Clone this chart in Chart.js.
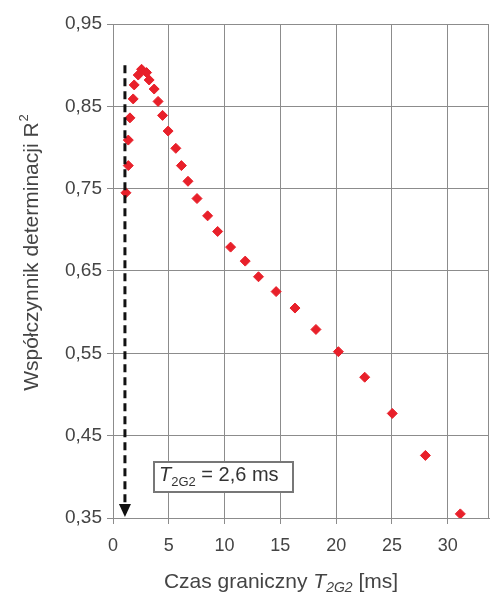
<!DOCTYPE html>
<html>
<head>
<meta charset="utf-8">
<script src="https://cdn.jsdelivr.net/npm/chart.js@4/dist/chart.umd.min.js"></script>
<style>
  html, body { margin: 0; padding: 0; background: #fff; }
  #wrap { width: 495px; height: 592px; }
</style>
</head>
<body>
<div id="wrap"><canvas id="chart" width="495" height="592"></canvas></div>
<script>
// limit time T2G2 [ms] vs coefficient of determination R^2
const timeMs = [1.16, 1.37, 1.37, 1.52, 1.81, 1.9, 2.26, 2.56, 3.01, 3.24, 3.69, 4.04, 4.44, 4.94,
  5.63, 6.13, 6.72, 7.53, 8.48, 9.38, 10.54, 11.85, 13.04, 14.62, 16.31, 18.19, 20.2, 22.56,
  25.03, 28.0, 31.13];
const r2 = [0.745, 0.778, 0.809, 0.836, 0.859, 0.876, 0.888, 0.895, 0.891, 0.882, 0.871, 0.856,
  0.839, 0.82, 0.799, 0.778, 0.759, 0.738, 0.717, 0.698, 0.679, 0.662, 0.643, 0.625, 0.605,
  0.579, 0.552, 0.521, 0.477, 0.426, 0.355];
const xTicks = [0, 5, 10, 15, 20, 25, 30];
const yTicks = [0.35, 0.45, 0.55, 0.65, 0.75, 0.85, 0.95];

// dashed arrow marking the optimum
const arrowX = 1.07;
const arrowFrom = 0.9;
const arrowTo = 0.35;
const labelText = ' = 2,6 ms';

const points = timeMs.map((t, i) => ({ x: t, y: r2[i] }));
const textColor = '#444';
const gridColor = '#8c8c8c';
const FONT = '"Liberation Sans", Arial, sans-serif';

const extras = {
  id: 'extras',
  afterDraw(chart) {
    const ctx = chart.ctx;
    const a = chart.chartArea;
    const xs = chart.scales.x, ys = chart.scales.y;
    ctx.save();

    // plot frame
    ctx.strokeStyle = gridColor;
    ctx.lineWidth = 1;
    ctx.strokeRect(a.left + 0.5, a.top + 0.5, a.right - a.left - 1, a.bottom - a.top);

    // dashed arrow
    const ax = xs.getPixelForValue(arrowX);
    const y1 = ys.getPixelForValue(arrowFrom);
    const y2 = ys.getPixelForValue(arrowTo);
    ctx.strokeStyle = '#111';
    ctx.lineWidth = 3;
    ctx.setLineDash([8, 5]);
    ctx.beginPath();
    ctx.moveTo(ax, y1);
    ctx.lineTo(ax, y2 - 12);
    ctx.stroke();
    ctx.setLineDash([]);
    ctx.fillStyle = '#111';
    ctx.beginPath();
    ctx.moveTo(ax - 6, y2 - 14);
    ctx.lineTo(ax + 6, y2 - 14);
    ctx.lineTo(ax, y2 - 1);
    ctx.closePath();
    ctx.fill();

    // label box
    const bx = 154, by = 462, bw = 139, bh = 30;
    ctx.fillStyle = '#fff';
    ctx.fillRect(bx, by, bw, bh);
    ctx.strokeStyle = '#777';
    ctx.lineWidth = 2;
    ctx.strokeRect(bx, by, bw, bh);
    ctx.fillStyle = '#333';
    ctx.textBaseline = 'alphabetic';
    ctx.textAlign = 'left';
    let tx = bx + 5;
    const base = by + 19;
    ctx.font = 'italic 20px ' + FONT;
    ctx.fillText('T', tx, base);
    tx += ctx.measureText('T').width;
    ctx.font = '13px ' + FONT;
    ctx.fillText('2G2', tx, base + 5);
    tx += ctx.measureText('2G2').width;
    ctx.font = '20px ' + FONT;
    ctx.fillText(labelText, tx, base);

    // x axis title
    ctx.fillStyle = textColor;
    const parts = [
      ['Czas graniczny ', '21px', 0],
      ['T', 'italic 21px', 0],
      ['2G2', 'italic 14px', 4],
      [' [ms]', '21px', 0]
    ];
    let total = 0;
    parts.forEach(p => {
      ctx.font = p[1] + ' ' + FONT;
      total += ctx.measureText(p[0]).width;
    });
    let px = 281 - total / 2;
    parts.forEach(p => {
      ctx.font = p[1] + ' ' + FONT;
      ctx.fillText(p[0], px, 588 + p[2]);
      px += ctx.measureText(p[0]).width;
    });

    // y axis title
    ctx.translate(38, 253);
    ctx.rotate(-Math.PI / 2);
    ctx.font = '21px ' + FONT;
    const main = 'Współczynnik determinacji R';
    const w1 = ctx.measureText(main).width;
    ctx.font = '13px ' + FONT;
    const w2 = ctx.measureText('2').width;
    let sx = -(w1 + w2) / 2;
    ctx.font = '21px ' + FONT;
    ctx.fillText(main, sx, 0);
    ctx.font = '13px ' + FONT;
    ctx.fillText('2', sx + w1 + 1, -10);
    ctx.restore();
  }
};

new Chart(document.getElementById('chart'), {
  type: 'scatter',
  data: {
    datasets: [{
      data: points,
      pointStyle: 'rectRot',
      pointRadius: 5,
      backgroundColor: '#e8202a',
      borderColor: '#e8202a',
      borderWidth: 1
    }]
  },
  options: {
    responsive: false,
    animation: false,
    layout: { padding: { left: 0, top: 24, right: 5, bottom: 0 } },
    plugins: { legend: { display: false }, tooltip: { enabled: false } },
    scales: {
      x: {
        type: 'linear',
        min: 0,
        max: 33.7,
        afterBuildTicks: s => { s.ticks = xTicks.map(v => ({ value: v })); },
        afterFit: s => { s.height = 74; },
        grid: { color: gridColor, lineWidth: 1, tickLength: 6 },
        border: { color: gridColor, width: 1 },
        ticks: {
          color: textColor,
          font: { family: FONT, size: 18 },
          padding: 11,
          maxRotation: 0,
          callback: v => String(v)
        }
      },
      y: {
        type: 'linear',
        min: 0.35,
        max: 0.95,
        afterBuildTicks: s => { s.ticks = yTicks.map(v => ({ value: v })); },
        afterFit: s => { s.width = 113; },
        grid: { color: gridColor, lineWidth: 1, tickLength: 6 },
        border: { color: gridColor, width: 1 },
        ticks: {
          color: textColor,
          font: { family: FONT, size: 19 },
          padding: 5,
          callback: v => v.toFixed(2).replace('.', ',')
        }
      }
    }
  },
  plugins: [extras]
});
</script>
</body>
</html>
